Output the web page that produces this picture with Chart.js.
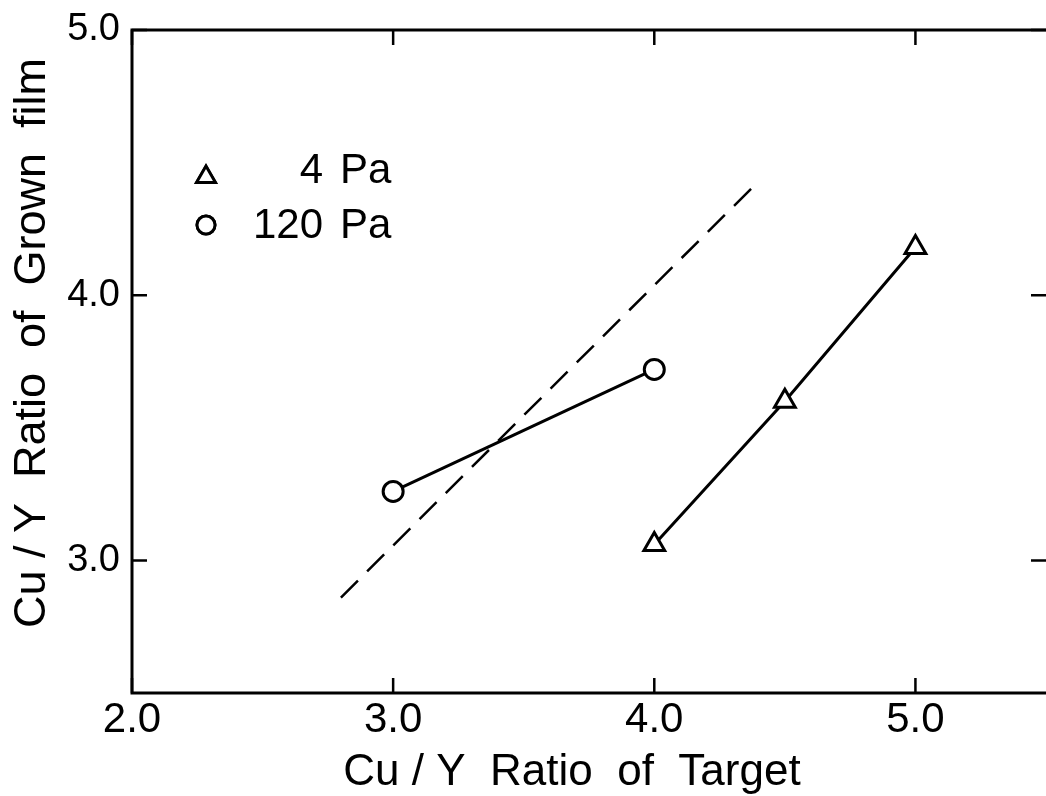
<!DOCTYPE html>
<html>
<head>
<meta charset="utf-8">
<script src="https://cdn.jsdelivr.net/npm/chart.js@4.4.1/dist/chart.umd.min.js"></script>
<style>
  html, body { margin: 0; padding: 0; background: #fff; }
  #wrap { width: 1046px; height: 796px; }
</style>
</head>
<body>
<div id="wrap"><canvas id="chart" width="1046" height="796"></canvas></div>
<script>
// values
const xTicks = [2.0, 3.0, 4.0, 5.0];
const yTicks = [3.0, 4.0, 5.0];
const target4Pa = [4.0, 4.5, 5.0];
const film4Pa = [3.06, 3.60, 4.18];
const target120Pa = [3.0, 4.0];
const film120Pa = [3.26, 3.72];
const refX = [2.8, 4.4];
const refY = [2.86, 4.43];
const seriesNames = ['4 Pa', '120 Pa'];
const xTitle = 'Cu / Y  Ratio  of  Target';
const yTitle = 'Cu / Y  Ratio  of  Grown  film';

const toPoints = (xs, ys) => xs.map((v, i) => ({ x: v, y: ys[i] }));

const FONT = "'Liberation Sans', Arial, sans-serif";

// frame, inward ticks, legend and axis titles
const framePlugin = {
  id: 'frame',
  afterDatasetsDraw(chart) {
    const { ctx, chartArea: a, scales: { x, y } } = chart;
    ctx.save();
    ctx.strokeStyle = '#000';
    ctx.lineWidth = 3;
    ctx.beginPath();
    ctx.moveTo(a.right + 5, a.top);
    ctx.lineTo(a.left, a.top);
    ctx.lineTo(a.left, a.bottom);
    ctx.lineTo(a.right + 5, a.bottom);
    ctx.stroke();

    const len = 15;
    ctx.lineWidth = 2.5;
    ctx.beginPath();
    xTicks.forEach(v => {
      const px = x.getPixelForValue(v);
      ctx.moveTo(px, a.bottom); ctx.lineTo(px, a.bottom - len);
      ctx.moveTo(px, a.top); ctx.lineTo(px, a.top + len);
    });
    yTicks.forEach(v => {
      const py = y.getPixelForValue(v);
      ctx.moveTo(a.left, py); ctx.lineTo(a.left + len, py);
      ctx.moveTo(a.right, py); ctx.lineTo(a.right - len, py);
    });
    ctx.stroke();

    // legend
    const ds = chart.data.datasets;
    const rows = [{ d: ds[0], my: 177, base: 183 }, { d: ds[1], my: 225, base: 238 }];
    ctx.fillStyle = '#000';
    ctx.font = '42px ' + FONT;
    ctx.textBaseline = 'alphabetic';
    rows.forEach((r, i) => {
      Chart.helpers.drawPoint(ctx, {
        pointStyle: r.d.pointStyle,
        radius: r.d.pointRadius - 1,
        borderWidth: r.d.borderWidth
      }, 206, r.my);
      ctx.fillStyle = '#fff';
      ctx.fill();
      ctx.strokeStyle = '#000';
      ctx.lineWidth = r.d.borderWidth;
      ctx.stroke();
      ctx.fillStyle = '#000';
      const parts = seriesNames[i].split(' ');
      ctx.textAlign = 'right';
      ctx.fillText(parts[0], 323, r.base);
      ctx.textAlign = 'left';
      ctx.fillText(parts[1], 340, r.base);
    });

    // axis titles
    ctx.font = '44px ' + FONT;
    ctx.textAlign = 'center';
    ctx.textBaseline = 'alphabetic';
    ctx.fillText(xTitle, 572, 785);
    ctx.save();
    ctx.translate(45, 343);
    ctx.rotate(-Math.PI / 2);
    ctx.font = '45px ' + FONT;
    ctx.fillText(yTitle, 0, 0);
    ctx.restore();
    ctx.restore();
  }
};

new Chart(document.getElementById('chart'), {
  type: 'scatter',
  data: {
    datasets: [
      {
        label: seriesNames[0],
        data: toPoints(target4Pa, film4Pa),
        showLine: true,
        borderColor: '#000',
        backgroundColor: '#fff',
        borderWidth: 3,
        pointStyle: 'triangle',
        pointRadius: 12,
        pointBorderWidth: 3,
        pointBackgroundColor: '#fff',
        pointBorderColor: '#000'
      },
      {
        label: seriesNames[1],
        data: toPoints(target120Pa, film120Pa),
        showLine: true,
        borderColor: '#000',
        backgroundColor: '#fff',
        borderWidth: 3,
        pointStyle: 'circle',
        pointRadius: 10,
        pointBorderWidth: 3,
        pointBackgroundColor: '#fff',
        pointBorderColor: '#000'
      },
      {
        label: 'ref',
        data: toPoints(refX, refY),
        showLine: true,
        borderColor: '#000',
        borderWidth: 2.5,
        borderDash: [24, 13],
        pointRadius: 0
      }
    ]
  },
  options: {
    responsive: false,
    animation: false,
    layout: { autoPadding: false, padding: { top: 30, right: 0, left: 0, bottom: 0 } },
    plugins: {
      legend: { display: false },
      tooltip: { enabled: false }
    },
    scales: {
      x: {
        type: 'linear',
        min: 2.0,
        max: 5.5,
        afterBuildTicks: s => { s.ticks = xTicks.map(v => ({ value: v })); },
        afterFit: s => { s.height = 103; s.paddingLeft = 0; s.paddingRight = 0; },
        grid: { display: false, drawTicks: false },
        border: { display: false },
        ticks: {
          color: '#000',
          padding: 2,
          maxRotation: 0,
          font: { family: FONT, size: 42 },
          callback: v => v.toFixed(1)
        }
      },
      y: {
        type: 'linear',
        min: 2.5,
        max: 5.0,
        afterBuildTicks: s => { s.ticks = yTicks.map(v => ({ value: v })); },
        afterFit: s => { s.width = 132; s.paddingTop = 0; s.paddingBottom = 0; },
        grid: { display: false, drawTicks: false },
        border: { display: false },
        ticks: {
          color: '#000',
          padding: 12,
          font: { family: FONT, size: 38 },
          callback: v => v.toFixed(1)
        }
      }
    }
  },
  plugins: [framePlugin]
});
</script>
</body>
</html>
